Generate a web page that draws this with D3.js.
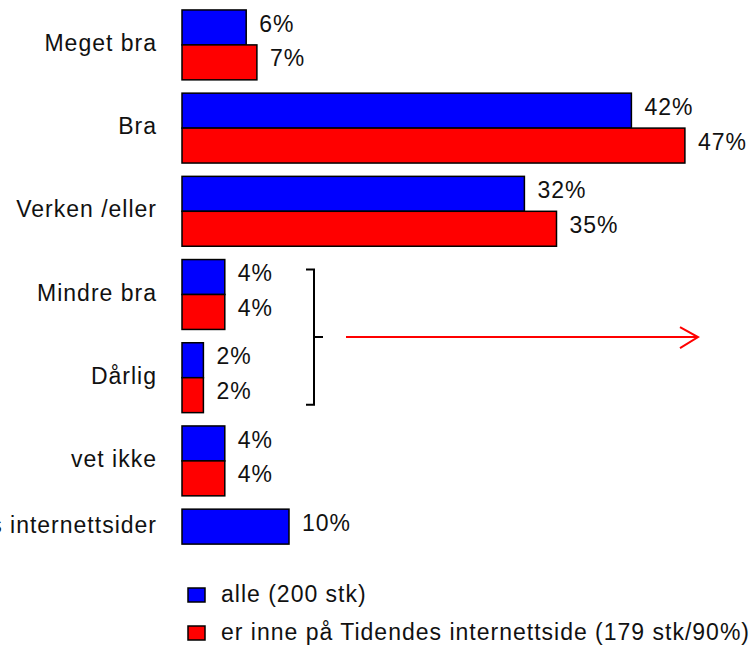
<!DOCTYPE html>
<html>
<head>
<meta charset="utf-8">
<script src="https://cdn.jsdelivr.net/npm/d3@7"></script>
<style>
  body { margin: 0; background: #fff; overflow: hidden; }
  text { font-family: "Liberation Sans", Arial, sans-serif; font-size: 23px; letter-spacing: 1px; fill: #111; }
</style>
</head>
<body>
<div id="chart"></div>
<script>
'use strict'

// categories (top to bottom)
let categories = ["Meget bra", "Bra", "Verken /eller", "Mindre bra", "Dårlig", "vet ikke",
                  "er ikke inne på Tidendes internettsider"]
// series values, percent (null = no bar)
let alleValues = [6, 42, 32, 4, 2, 4, 10]
let inneValues = [7, 47, 35, 4, 2, 4, null]
let seriesNames = ["alle (200 stk)", "er inne på Tidendes internettside (179 stk/90%)"]
let seriesColors = ["#0000ff", "#ff0000"]
// categories grouped by the bracket
let bracketed = ["Mindre bra", "Dårlig"]

let width = 750
let height = 647

let svg = d3.select("#chart").append("svg")
  .attr("width", width)
  .attr("height", height)

let x = d3.scaleLinear()
  .domain([0, 50])
  .range([182, 717])

let y = d3.scaleBand()
  .domain(categories)
  .range([3.3, 585.7])
  .paddingInner(0.16)
  .paddingOuter(0.08)

let sub = d3.scaleBand()
  .domain([0, 1])
  .range([0, y.bandwidth()])

// flatten into bar records
let bars = []
categories.forEach(function (c, i) {
  [alleValues[i], inneValues[i]].forEach(function (v, s) {
    if (v != null) bars.push({ cat: c, s: s, v: v })
  })
})

let barG = svg.append("g")

barG.selectAll("rect")
  .data(bars)
  .enter()
  .append("rect")
  .attr("x", x(0))
  .attr("y", d => y(d.cat) + sub(d.s))
  .attr("width", d => x(d.v) - x(0))
  .attr("height", sub.bandwidth())
  .style("fill", d => seriesColors[d.s])
  .style("stroke", "#000")
  .style("stroke-width", 1.5)

barG.selectAll("text")
  .data(bars)
  .enter()
  .append("text")
  .attr("x", d => x(d.v) + 13)
  .attr("y", d => y(d.cat) + sub(d.s) + sub.bandwidth() / 2 - 2)
  .attr("dominant-baseline", "middle")
  .text(d => d.v + "%")

// category labels, centred on the bars that exist
svg.append("g").selectAll("text")
  .data(categories)
  .enter()
  .append("text")
  .attr("x", 157)
  .attr("y", function (c, i) {
    let n = inneValues[i] == null ? 1 : 2
    return y(c) + sub.bandwidth() * n / 2
  })
  .attr("text-anchor", "end")
  .attr("dominant-baseline", "middle")
  .text(d => d)

// bracket round "Mindre bra" and "Dårlig"
let bTop = y(bracketed[0]) + 10
let bBot = y(bracketed[1]) + y.bandwidth() - 8
let bMid = (bTop + bBot) / 2
let bx = 314
svg.append("path")
  .attr("d", "M" + (bx - 8) + "," + bTop + "H" + bx + "V" + bBot + "H" + (bx - 8) +
             "M" + bx + "," + bMid + "H" + (bx + 9))
  .style("fill", "none")
  .style("stroke", "#000")
  .style("stroke-width", 2)

// red arrow
svg.append("path")
  .attr("d", "M346," + bMid + "H698" + "M680," + (bMid - 10) + "L698," + bMid + "L680," + (bMid + 11))
  .style("fill", "none")
  .style("stroke", "#ff0000")
  .style("stroke-width", 2)

// legend
let legend = svg.selectAll(".legend")
  .data(seriesNames)
  .enter()
  .append("g")
  .attr("class", "legend")
  .attr("transform", (d, i) => "translate(188," + (588 + i * 38) + ")")

legend.append("rect")
  .attr("width", 17)
  .attr("height", 14)
  .style("fill", (d, i) => seriesColors[i])
  .style("stroke", "#000")
  .style("stroke-width", 1.5)

legend.append("text")
  .attr("x", 33)
  .attr("y", 8)
  .attr("dominant-baseline", "middle")
  .text(d => d)
</script>
</body>
</html>
